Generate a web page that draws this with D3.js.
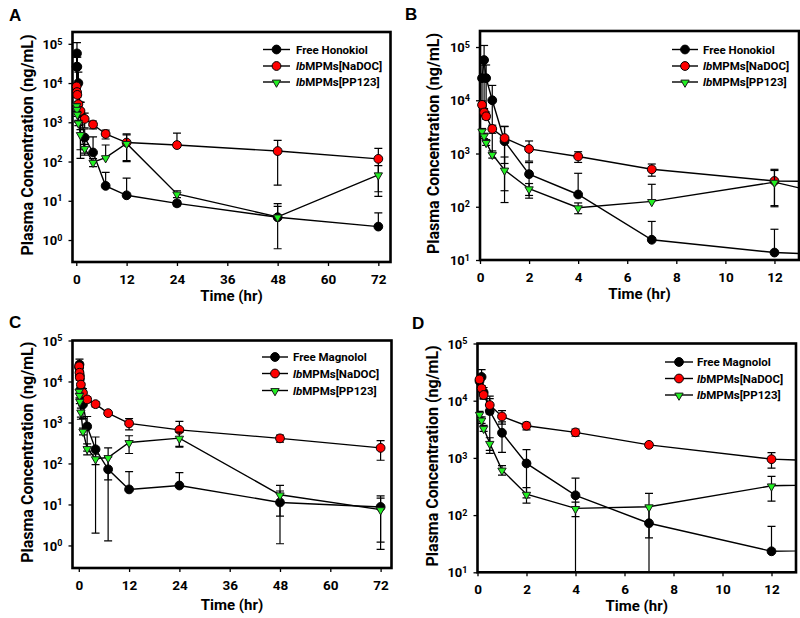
<!DOCTYPE html>
<html><head><meta charset="utf-8">
<script src="https://cdn.jsdelivr.net/npm/d3@7"></script>
<style>
body{margin:0;background:#fff}
svg{display:block}
text{font-family:Roboto,'Open Sans',sans-serif;font-weight:bold;fill:#000}
</style>
</head><body>
<svg id="chart" width="800" height="618"></svg>
<script>
// ---------- DATA ----------
const timesHr = [0.083, 0.167, 0.25, 0.5, 1, 2, 4, 7, 12, 24, 48, 72];

const honokiolFree     = [26000, 57000, 26000, 10000, 1700, 410, 170, 24, 13.8, 8.6, 3.8, 2.2];
const honokiolFreeSD   = [20000, 50000, 20000, 9000, 1500, 265, 255, 29, 24, 1.2, 4.7, 2.7];
const honokiolNaDOC    = [8200, 5900, 5000, 2900, 1950, 1220, 880, 505, 305, 263, 185, 117];
const honokiolNaDOCSD  = [1500, 800, 600, 500, 1300, 500, 200, 130, 200, 267, 160, 100];
const honokiolPP123    = [2650, 2150, 1620, 970, 490, 218, 96, 126, 290, 15, 3.9, 46];
const honokiolPP123SD  = [300, 250, 200, 150, 370, 55, 22, 138, 190, 3, 3.3, 33];

const magnololFree     = [22000, 26000, 14000, 6600, 2750, 800, 222, 72, 23.3, 29, 11.2, 8.7];
const magnololFreeSD   = [4000, 9000, 3000, 5400, 1500, 600, 220, 70.7, 40, 31, 10.1, 7.5];
const magnololNaDOC    = [23500, 16400, 12600, 8400, 5300, 3650, 2800, 1690, 950, 660, 410, 240];
const magnololNaDOCSD  = [4000, 2000, 2000, 2500, 1400, 550, 400, 120, 290, 400, 80, 120];
const magnololPP123    = [5800, 4600, 3300, 1800, 615, 232, 131, 140, 325, 416, 17.2, 7.5];
const magnololPP123SD  = [700, 600, 400, 450, 115, 70, 37, 100, 150, 165, 12, 6.7];

const xTicksLong  = [0, 12, 24, 36, 48, 60, 72];
const xTicksShort = [0, 2, 4, 6, 8, 10, 12];
const legendHonokiol = ["Free Honokiol", "lbMPMs[NaDOC]", "lbMPMs[PP123]"];
const legendMagnolol = ["Free Magnolol", "lbMPMs[NaDOC]", "lbMPMs[PP123]"];
const yAxisTitle = "Plasma Concentration (ng/mL)";
const xAxisTitle = "Time (hr)";

// ---------- STYLE ----------
const seriesStyle = [
  {shape: "circle", fill: "#000000"},
  {shape: "circle", fill: "#ff0000"},
  {shape: "triangle", fill: "#22f022"}
];

const svg = d3.select("#chart");

function pack(means, sds) { return timesHr.map((t, i) => ({t, v: means[i], sd: sds[i]})); }

const honokiolSeries = [pack(honokiolFree, honokiolFreeSD), pack(honokiolNaDOC, honokiolNaDOCSD), pack(honokiolPP123, honokiolPP123SD)];
const magnololSeries = [pack(magnololFree, magnololFreeSD), pack(magnololNaDOC, magnololNaDOCSD), pack(magnololPP123, magnololPP123SD)];

const panels = [
  {letter: "A", lx: 9, ly: 20.5, left: 72.5, right: 390.5, top: 32, bottom: 262,
   xDom: [-0.9, 74.9], yDom: [Math.pow(10, -0.56), 2e5], xTicks: xTicksLong, yExp: [0,1,2,3,4,5],
   series: honokiolSeries, legend: legendHonokiol, legX1: 263, legX2: 290, legTX: 296, legY: [49.5, 66, 82],
   yTitleX: 27, xTitleY: 301},
  {letter: "B", lx: 405, ly: 19.5, left: 480, right: 799, top: 31, bottom: 260,
   xDom: [0, 13], yDom: [10, 2e5], xTicks: xTicksShort, yExp: [1,2,3,4,5],
   series: honokiolSeries, legend: legendHonokiol, legX1: 672, legX2: 698, legTX: 703, legY: [49.5, 66, 82],
   yTitleX: 433, xTitleY: 299},
  {letter: "C", lx: 9, ly: 327.5, left: 72.5, right: 391.5, top: 340.5, bottom: 568,
   xDom: [-1.5, 74.6], yDom: [Math.pow(10, -0.55), 1e5], xTicks: xTicksLong, yExp: [0,1,2,3,4,5],
   series: magnololSeries, legend: legendMagnolol, legX1: 262, legX2: 288, legTX: 293, legY: [357, 373.5, 390.5],
   yTitleX: 27.5, xTitleY: 609.5},
  {letter: "D", lx: 412, ly: 328.5, left: 477.5, right: 796, top: 343.5, bottom: 572.3,
   xDom: [0, 13], yDom: [10, 1e5], xTicks: xTicksShort, yExp: [1,2,3,4,5],
   series: magnololSeries, legend: legendMagnolol, legX1: 665, legX2: 693, legTX: 697, legY: [362, 378.5, 395],
   yTitleX: 432, xTitleY: 611}
];

function drawMarker(sel, style, cx, cy) {
  if (style.shape === "circle") {
    sel.append("circle").attr("cx", cx).attr("cy", cy).attr("r", 4.4)
      .attr("fill", style.fill).attr("stroke", "#000").attr("stroke-width", 1);
  } else {
    sel.append("path").attr("d", d3.symbol(d3.symbolTriangle, 30)())
      .attr("transform", `translate(${cx},${cy + 0.5}) rotate(180)`)
      .attr("fill", style.fill).attr("stroke", "#1a1a1a").attr("stroke-width", 1);
  }
}

const defs = svg.append("defs");

panels.forEach(p => {
  const x = d3.scaleLinear().domain(p.xDom).range([p.left, p.right]);
  const y = d3.scaleLog().domain(p.yDom).range([p.bottom, p.top]);
  const g = svg.append("g");
  const clipId = "clip" + p.letter;
  defs.append("clipPath").attr("id", clipId).append("rect")
    .attr("x", p.left).attr("y", p.top).attr("width", p.right - p.left).attr("height", p.bottom - p.top);

  // panel letter
  g.append("text").attr("x", p.lx).attr("y", p.ly).text(p.letter)
    .style("font-family", "'Liberation Sans',Arial,sans-serif").style("font-size", "17px");

  // x axis
  const xAxis = d3.axisBottom(x).tickValues(p.xTicks).tickSizeInner(4).tickSizeOuter(0).tickPadding(8);
  const gx = g.append("g").attr("transform", `translate(0,${p.bottom})`).call(xAxis);
  gx.select(".domain").remove();
  gx.selectAll(".tick line").attr("stroke", "#000").attr("stroke-width", 1.3);
  gx.selectAll(".tick text").style("font-size", "13.5px").style("font-family", "Roboto,sans-serif").style("font-weight", "bold").attr("fill", "#000");

  // y axis
  const yAxis = d3.axisLeft(y).tickValues(p.yExp.map(e => Math.pow(10, e))).tickSizeInner(4).tickSizeOuter(0).tickPadding(6).tickFormat(() => "");
  const gy = g.append("g").attr("transform", `translate(${p.left},0)`).call(yAxis);
  gy.select(".domain").remove();
  gy.selectAll(".tick line").attr("stroke", "#000").attr("stroke-width", 1.3);
  gy.selectAll(".tick text").each(function(d) {
    const t = d3.select(this);
    t.text(null).attr("dy", "0.36em").style("font-size", "13px").style("font-family", "Roboto,sans-serif").style("font-weight", "bold").attr("fill", "#000");
    t.append("tspan").text("10");
    t.append("tspan").attr("dy", "-0.5em").style("font-size", "9px").text(Math.round(Math.log10(d)));
  });

  // frame
  g.append("rect").attr("x", p.left).attr("y", p.top).attr("width", p.right - p.left).attr("height", p.bottom - p.top)
    .attr("fill", "none").attr("stroke", "#000").attr("stroke-width", 2.6);

  // axis titles
  g.append("text").attr("transform", `translate(${p.yTitleX},${(p.top + p.bottom) / 2 - 2}) rotate(-90)`)
    .attr("text-anchor", "middle").attr("dominant-baseline", "central").style("font-size", "16px").text(yAxisTitle);
  g.append("text").attr("x", (p.left + p.right) / 2).attr("y", p.xTitleY).attr("text-anchor", "middle")
    .style("font-size", "15px").text(xAxisTitle);

  // data
  const dataG = g.append("g");
  p.series.forEach((s, si) => {
    const style = seriesStyle[si];
    const clipped = dataG.append("g").attr("clip-path", `url(#${clipId})`);
    // error bars
    s.forEach(d => {
      const cx = x(d.t);
      const yTop = y(d.v + d.sd);
      clipped.append("line").attr("x1", cx).attr("x2", cx).attr("y1", y(d.v)).attr("y2", yTop)
        .attr("stroke", "#000").attr("stroke-width", 1.2);
      clipped.append("line").attr("x1", cx - 4).attr("x2", cx + 4).attr("y1", yTop).attr("y2", yTop)
        .attr("stroke", "#000").attr("stroke-width", 1.2);
      const lo = d.v - d.sd;
      if (lo > 0) {
        const yLo = y(lo);
        clipped.append("line").attr("x1", cx).attr("x2", cx).attr("y1", y(d.v)).attr("y2", yLo)
          .attr("stroke", "#000").attr("stroke-width", 1.2);
        clipped.append("line").attr("x1", cx - 4).attr("x2", cx + 4).attr("y1", yLo).attr("y2", yLo)
          .attr("stroke", "#000").attr("stroke-width", 1.2);
      }
    });
    // line
    clipped.append("path").datum(s).attr("fill", "none").attr("stroke", "#000").attr("stroke-width", 1.4)
      .attr("d", d3.line().x(d => x(d.t)).y(d => y(d.v)));
    // markers
    const mg = dataG.append("g");
    s.filter(d => d.t >= p.xDom[0] && d.t <= p.xDom[1]).forEach(d => drawMarker(mg, style, x(d.t), y(d.v)));
  });

  // legend
  const lg = g.append("g");
  p.legend.forEach((label, i) => {
    const ly = p.legY[i];
    lg.append("line").attr("x1", p.legX1).attr("x2", p.legX2).attr("y1", ly).attr("y2", ly)
      .attr("stroke", "#000").attr("stroke-width", 1.4);
    drawMarker(lg, seriesStyle[i], (p.legX1 + p.legX2) / 2, ly);
    const t = lg.append("text").attr("x", p.legTX).attr("y", ly).attr("dominant-baseline", "central").style("font-size", "11.5px");
    if (label.startsWith("lb")) {
      t.append("tspan").style("font-style", "italic").text("lb");
      t.append("tspan").text(label.slice(2));
    } else {
      t.text(label);
    }
  });
});
</script>
</body></html>
